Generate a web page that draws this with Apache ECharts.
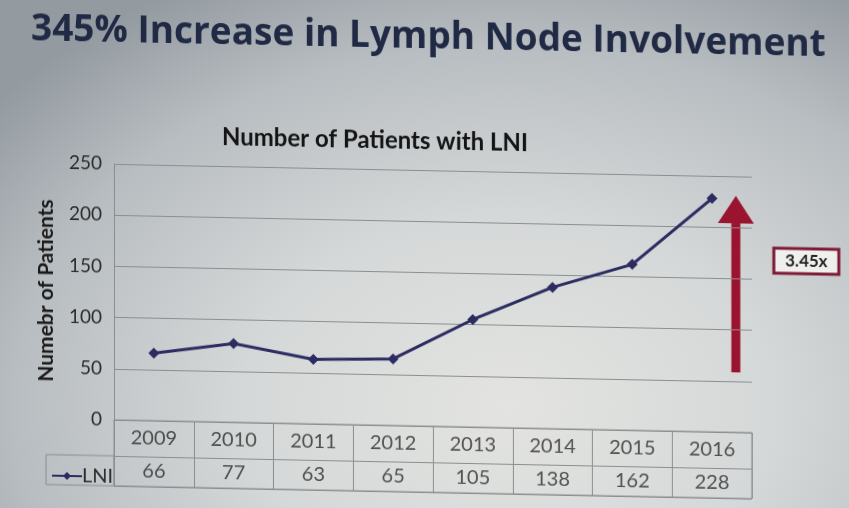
<!DOCTYPE html>
<html><head><meta charset="utf-8">
<script src="https://cdn.jsdelivr.net/npm/echarts@6/dist/echarts.min.js"></script>
<style>
html,body{margin:0;padding:0;}
#wrap{width:849px;height:508px;overflow:hidden;background:radial-gradient(ellipse 78% 95% at 60% 80%, #e3e4e1 0%, #d5d8d8 40%, #b8bdc1 75%, #939aa0 100%);}
#c{width:849px;height:508px;transform:skewY(1.15deg);transform-origin:120px 0;}
</style></head><body>
<div id="wrap"><div id="c"></div></div>
<script>
const years = ['2009','2010','2011','2012','2013','2014','2015','2016'];
const lni = [66, 77, 63, 65, 105, 138, 162, 228];
const yTicks = [0, 50, 100, 150, 200, 250];
const seriesName = 'LNI';
const multiplier = '3.45x';

const chart = echarts.init(document.getElementById('c'));
const txt = '#2c2c2c';
const grid = '#8a8e91';
const tableCells = [];
years.forEach((y, i) => {
  tableCells.push({ value: [y, 18], label: { formatter: y } });
  tableCells.push({ value: [y, 51], label: { formatter: String(lni[i]) } });
});
chart.setOption({
  backgroundColor: 'transparent',
  animation: false,
  title: [
    { text: '345% Increase in Lymph Node Involvement', left: 26, top: 8,
      textStyle: { fontFamily: 'Open Sans', fontWeight: 'bold', fontSize: 37, color: '#212a44' } },
    { text: 'Number of Patients with LNI', left: 370, top: 118, textAlign: 'center',
      textStyle: { fontFamily: 'Lato', fontWeight: 'bold', fontSize: 24, color: '#141414' } }
  ],
  legend: {
    left: 46, top: 462, itemWidth: 30, itemHeight: 10, itemGap: 2,
    data: [seriesName],
    textStyle: { fontFamily: 'Lato', fontSize: 20, color: txt, padding: [0,0,0,-5] }
  },
  grid: [
    { left: 114, right: 97, top: 164, height: 256 },
    { left: 114, right: 97, top: 420, height: 66, show: true, borderColor: grid, borderWidth: 1 }
  ],
  xAxis: [
    { type: 'category', data: years, gridIndex: 0, boundaryGap: true,
      axisLine: { show: true, lineStyle: { color: grid } }, axisTick: { show: false }, axisLabel: { show: false } },
    { type: 'category', data: years, gridIndex: 1, boundaryGap: true,
      axisLine: { show: false }, axisTick: { show: false }, axisLabel: { show: false },
      splitLine: { show: true, interval: 0, lineStyle: { color: grid } } }
  ],
  yAxis: [
    { type: 'value', gridIndex: 0, min: yTicks[0], max: yTicks[yTicks.length-1], interval: 50,
      name: 'Numebr of Patients', nameLocation: 'middle', nameGap: 57,
      nameTextStyle: { fontFamily: 'Lato', fontWeight: 'bold', fontSize: 21, color: '#1a1a1a' },
      axisLine: { show: true, lineStyle: { color: grid } }, axisTick: { show: false },
      axisLabel: { fontFamily: 'Lato', fontSize: 19, color: txt, margin: 12 },
      splitLine: { lineStyle: { color: grid } } },
    { type: 'value', gridIndex: 1, min: 0, max: 66, interval: 36, inverse: true,
      axisLine: { show: false }, axisTick: { show: false }, axisLabel: { show: false },
      splitLine: { show: true, lineStyle: { color: grid } } }
  ],
  series: [
    { name: seriesName, type: 'line', xAxisIndex: 0, yAxisIndex: 0, data: lni,
      symbol: 'diamond', symbolSize: 11, showAllSymbol: true,
      lineStyle: { color: '#2d2c62', width: 3 }, itemStyle: { color: '#2d2c62' } },
    { type: 'scatter', xAxisIndex: 1, yAxisIndex: 1, symbolSize: 0, silent: true,
      data: tableCells,
      label: { show: true, position: 'inside', fontFamily: 'Lato', fontSize: 20, color: txt } }
  ],
  graphic: [
    { type: 'rect', shape: { x: 46, y: 456, width: 68, height: 30 }, style: { fill: 'none', stroke: grid, lineWidth: 1 } },
    { type: 'rect', shape: { x: 731.5, y: 208, width: 9, height: 152 }, style: { fill: '#9a1430' } },
    { type: 'polygon', shape: { points: [[718, 211], [736, 183.5], [754, 211]] }, style: { fill: '#9a1430' } },
    { type: 'rect', shape: { x: 774, y: 235, width: 65, height: 25 }, style: { fill: '#efefed', stroke: '#7e1a36', lineWidth: 3 } },
    { type: 'text', style: { x: 806.5, y: 248, text: multiplier, align: 'center', verticalAlign: 'middle',
      font: 'bold 17px Lato', fill: '#232323' } }
  ]
});
</script>
</body></html>
